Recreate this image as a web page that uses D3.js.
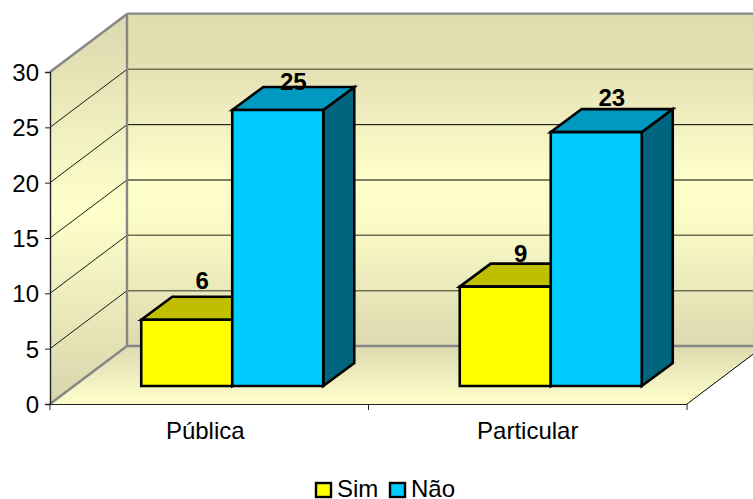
<!DOCTYPE html>
<html><head><meta charset="utf-8">
<script src="https://cdn.jsdelivr.net/npm/d3@7/dist/d3.min.js"></script>
<style>html,body{margin:0;padding:0;background:#fff;overflow:hidden}svg{display:block}text{font-family:"Liberation Sans",Arial,sans-serif;fill:#000}</style>
</head><body><svg id="c" width="753" height="499"></svg>
<script>
const categories = ["Pública", "Particular"];
const seriesNames = ["Sim", "Não"];
const simValues = [6, 9];
const naoValues = [25, 23];
const yTicks = [0, 5, 10, 15, 20, 25, 30];
const seriesFill = ["#FFFF00", "#00CCFF"];
const seriesTop = ["#BFBF00", "#0099BF"];
const seriesSide = ["#808000", "#006680"];
const labelNudge = [[-0.5, 5.5], [10.5, 4.5]];
const categoryNudge = [-4, 0];

const svg = d3.select("#c");
const W = 753, H = 499;
const x0 = 50, x1 = 687, yB = 404, yT = 72;
const dx = 77, dy = -58;           // floor depth
const bx = 23, by = -18, bdx = 31, bdy = -23; // bar inset and bar depth
const x = d3.scaleBand().domain(categories).range([x0, x1]);
const y = d3.scaleLinear().domain([0, 30]).range([yB, yT]);
const barY = d3.scaleLinear().domain([0, 30]).range([yB + by, yT + by + 0.8]);
const barW = 91;
const xs = d3.scaleBand().domain(seriesNames).range([-barW, barW]);

const defs = svg.append("defs");
function grad(id, y1, y2, stops) {
  const g = defs.append("linearGradient").attr("id", id).attr("gradientUnits", "userSpaceOnUse")
    .attr("x1", 0).attr("x2", 0).attr("y1", y1).attr("y2", y2);
  stops.forEach(s => g.append("stop").attr("offset", s[0]).attr("stop-color", s[1]));
}
grad("wall", yT + dy, yB + dy, [[0, "#DFDCB0"], [0.14, "#E2DFB3"], [0.5, "#FFFFCC"], [0.62, "#FCFCC8"], [1, "#DCD9AF"]]);
grad("side", yT + dy, yB, [[0, "#DAD7AD"], [0.5, "#FFFFCC"], [1, "#D8D5AB"]]);
grad("floor", yB + dy, yB, [[0, "#DDDAAF"], [1, "#FFFFCC"]]);

const path = pts => "M" + pts.map(p => p.join(",")).join("L") + "Z";
const line = (a, b, stroke, w) => svg.append("line").attr("x1", a[0]).attr("y1", a[1]).attr("x2", b[0]).attr("y2", b[1])
  .attr("stroke", stroke).attr("stroke-width", w);

// walls and floor
svg.append("path").attr("d", path([[x0 + dx, yT + dy], [x1 + dx, yT + dy], [x1 + dx, yB + dy], [x0 + dx, yB + dy]])).attr("fill", "url(#wall)");
svg.append("path").attr("d", path([[x0, yT], [x0 + dx, yT + dy], [x0 + dx, yB + dy], [x0, yB]])).attr("fill", "url(#side)");
svg.append("path").attr("d", path([[x0, yB], [x1, yB], [x1 + dx, yB + dy], [x0 + dx, yB + dy]])).attr("fill", "url(#floor)");

// gridlines: the two middle ones read as thin black, the others as thicker grey
const isBlack = v => v === 20 || v === 15;
yTicks.filter(v => v > 0 && v < 30).forEach(v => {
  line([x0, y(v)], [x0 + dx, y(v) + dy], "#000", 0.9);
  line([x0 + dx, y(v) + dy], [x1 + dx, y(v) + dy], isBlack(v) ? "#000" : "#6f6e58", isBlack(v) ? 1 : 1.5);
});
line([x0 + dx, yT + dy], [x0 + dx, yB + dy], "#868686", 2.4);
line([x0, yT], [x0 + dx, yT + dy], "#868686", 2.4);
line([x0, yB], [x0 + dx, yB + dy], "#868686", 2.4);
line([x0 + dx, yB + dy], [x1 + dx, yB + dy], "#868686", 2.4);
line([x1, yB], [x1 + dx, yB + dy], "#000", 1);
line([x0 + dx, yT + dy - 0.4], [W, yT + dy - 0.4], "#868686", 2.4);

// bars
const rows = categories.map((c, i) => ({ c, i, vals: [simValues[i], naoValues[i]] }));
const groups = svg.selectAll("g.cat").data(rows).join("g").attr("class", "cat");
groups.each(function (r) {
  const g = d3.select(this);
  const cx = x(r.c) + x.bandwidth() / 2 + bx;
  [0, 1].forEach(s => {
    const v = r.vals[s];
    const L = cx + xs(seriesNames[s]), R = L + barW;
    const B = barY(0), Tp = barY(v);
    const add = (pts, fill) => g.append("path").attr("d", path(pts)).attr("fill", fill)
      .attr("stroke", "#000").attr("stroke-width", 2.6).attr("stroke-linejoin", "miter");
    add([[R, B], [R + bdx, B + bdy], [R + bdx, Tp + bdy], [R, Tp]], seriesSide[s]);
    add([[L, Tp], [L + bdx, Tp + bdy], [R + bdx, Tp + bdy], [R, Tp]], seriesTop[s]);
    add([[L, B], [R, B], [R, Tp], [L, Tp]], seriesFill[s]);
  });
});
// value labels
rows.forEach(r => {
  const cx = x(r.c) + x.bandwidth() / 2 + bx;
  [0, 1].forEach(s => {
    const v = r.vals[s];
    const n = labelNudge[s][r.i];
    svg.append("text").attr("x", cx + xs(seriesNames[s]) + barW / 2 + bdx / 2)
      .attr("y", y(v) + by + bdy - 7 + n).attr("text-anchor", "middle")
      .style("font-size", "24px").style("font-weight", "bold").text(v);
  });
});

// axes
const yAxis = d3.axisLeft(y).tickValues(yTicks).tickSize(5).tickPadding(6);
const ga = svg.append("g").attr("transform", `translate(${x0},0)`).call(yAxis);
ga.selectAll(".domain").attr("stroke", "#222").attr("stroke-width", 1.4);
ga.selectAll("line").attr("stroke", "#222").attr("stroke-width", 1);
ga.selectAll("text").style("font-size", "24px").attr("fill", "#000").attr("dy", "0.36em");

const xAxis = d3.axisBottom(x).tickSize(0).tickPadding(18);
const gx = svg.append("g").attr("transform", `translate(0,${yB})`).call(xAxis);
gx.selectAll(".domain").attr("stroke", "#222").attr("stroke-width", 1.2).attr("d", `M${x0},0.5H${x1}`);
gx.selectAll("text").style("font-size", "24px").attr("fill", "#000").attr("dy", "0.71em")
  .attr("transform", (d, i) => `translate(${categoryNudge[i]},0)`);
[x0, x(categories[1]), x1].forEach(px => line([px, yB], [px, yB + 6], "#222", 1));

// legend
const legendX = [316, 390], legendTextX = [337, 411];
seriesNames.forEach((n, i) => {
  svg.append("rect").attr("x", legendX[i]).attr("y", 483).attr("width", 15).attr("height", 14)
    .attr("fill", seriesFill[i]).attr("stroke", "#000").attr("stroke-width", 2.4);
  svg.append("text").attr("x", legendTextX[i]).attr("y", 497).style("font-size", "24px").text(n);
});
</script></body></html>
